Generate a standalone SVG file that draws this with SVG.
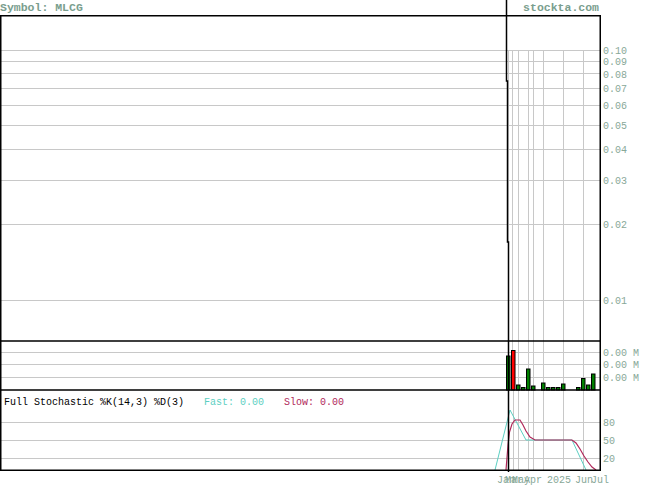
<svg xmlns="http://www.w3.org/2000/svg" width="655" height="486" viewBox="0 0 655 486">
<style>
.hdr{font-family:"Liberation Mono","DejaVu Sans Mono",monospace;font-size:11.5px;font-weight:bold;fill:#7a9e8e}
.ax{font-family:"Liberation Mono","DejaVu Sans Mono",monospace;font-size:10px;fill:#88a898}
.lbl{font-family:"Liberation Mono","DejaVu Sans Mono",monospace;font-size:10px;fill:#000}
.grid{stroke:#c8c8c8;stroke-width:1;fill:none}
.border{stroke:#000;stroke-width:1.5;fill:none}
.vg{fill:#008000;stroke:#000;stroke-width:1}
.vr{fill:#ff0000;stroke:#000;stroke-width:1}
</style>
<rect width="655" height="486" fill="#fff"/>
<g id="header">
<text class="hdr" x="0" y="11">Symbol: MLCG</text>
<text class="hdr" x="599" y="11" text-anchor="end">stockta.com</text>
</g>
<g id="grid">
<path class="grid" d="M0 50.5H600M0 61.5H600M0 73.5H600M0 88.5H600M0 105.5H600M0 125.5H600M0 149.5H600M0 180.5H600M0 224.5H600M0 300.5H600"/>
<path class="grid" d="M508.5 50V341M512.5 50V341M518.5 50V341M528.5 50V341M533.5 50V341M543.5 50V341M563.5 50V341M583.5 50V341"/>
<path class="grid" d="M0 352.5H600M0 364.5H600M0 377.5H600"/>
<path class="grid" d="M508.5 341V390M512.5 341V390M518.5 341V390M528.5 341V390M533.5 341V390M543.5 341V390M563.5 341V390M583.5 341V390"/>
<path class="grid" d="M0 422.5H600M0 440.5H600M0 458.5H600"/>
<path class="grid" d="M508.5 390V470M513.5 390V470M518.5 390V470M528.5 390V470M533.5 390V470M543.5 390V470M563.5 390V470M583.5 390V470"/>
</g>
<g id="volume">
<rect class="vg" x="506.5" y="356" width="3.5" height="34"/>
<rect class="vr" x="511.5" y="350.5" width="3.5" height="39.5"/>
<rect class="vg" x="516.5" y="385" width="3.5" height="5"/>
<rect class="vg" x="521.5" y="387.5" width="3.5" height="2.5"/>
<rect class="vg" x="526.5" y="369" width="3.5" height="21"/>
<rect class="vg" x="531.5" y="386" width="3.5" height="4"/>
<rect class="vg" x="541.5" y="383" width="3.5" height="7"/>
<rect class="vg" x="546.5" y="387.5" width="3.5" height="2.5"/>
<rect class="vg" x="551.5" y="387.5" width="3.5" height="2.5"/>
<rect class="vg" x="556.5" y="387.5" width="3.5" height="2.5"/>
<rect class="vg" x="561.5" y="384" width="3.5" height="6"/>
<rect class="vg" x="576.5" y="387.5" width="3.5" height="2.5"/>
<rect class="vg" x="581.5" y="378.5" width="3.5" height="11.5"/>
<rect class="vg" x="586.5" y="385" width="3.5" height="5"/>
<rect class="vg" x="591.5" y="374" width="3.5" height="16"/>
</g>
<g id="stochastic">
<polyline fill="none" stroke="#5ccfc2" stroke-width="1" points="495,470 510,410 526,440 572,440 586,470"/>
<polyline fill="none" stroke="#b0285a" stroke-width="1.2" points="506,470 508,445 509.5,432 512,424 515,420 520,420 523,425 526,431 530,437 535,440 572,440 576,443 580,449 584,456 588,462 592,467 596,470"/>
</g>
<g id="borders">
<path class="border" d="M0.75 15.75H600.25V470.25H0.75Z"/>
<path class="border" d="M0 341H600M0 390H600"/>
</g>
<g id="price">
<polyline fill="none" stroke="#000" stroke-width="1.5" points="506.5,0 506.5,81 507.5,81 507.5,242 508.5,242 508.5,472"/>
</g>
<g id="labels">
<text class="ax" x="603" y="54">0.10</text>
<text class="ax" x="603" y="65">0.09</text>
<text class="ax" x="603" y="77.5">0.08</text>
<text class="ax" x="603" y="92">0.07</text>
<text class="ax" x="603" y="109">0.06</text>
<text class="ax" x="603" y="129">0.05</text>
<text class="ax" x="603" y="153">0.04</text>
<text class="ax" x="603" y="184">0.03</text>
<text class="ax" x="603" y="228">0.02</text>
<text class="ax" x="603" y="304">0.01</text>
<text class="ax" x="603" y="356">0.00 M</text>
<text class="ax" x="603" y="368">0.00 M</text>
<text class="ax" x="603" y="381">0.00 M</text>
<text class="ax" x="603" y="426">80</text>
<text class="ax" x="603" y="444">50</text>
<text class="ax" x="603" y="462">20</text>
<text class="lbl" x="4" y="405">Full Stochastic %K(14,3) %D(3)</text>
<text class="lbl" x="204" y="405"><tspan fill="#5ccfc2">Fast: 0.00</tspan></text>
<text class="lbl" x="284" y="405"><tspan fill="#b0285a">Slow: 0.00</tspan></text>
</g>
<g id="dates">
<text class="ax" x="497" y="483">Jan</text>
<text class="ax" x="505" y="483">Mar</text>
<text class="ax" x="512" y="483">May</text>
<text class="ax" x="524" y="483">Apr</text>
<text class="ax" x="547" y="483">2025</text>
<text class="ax" x="575" y="483">Jun</text>
<text class="ax" x="591" y="483">Jul</text>
</g>
</svg>
